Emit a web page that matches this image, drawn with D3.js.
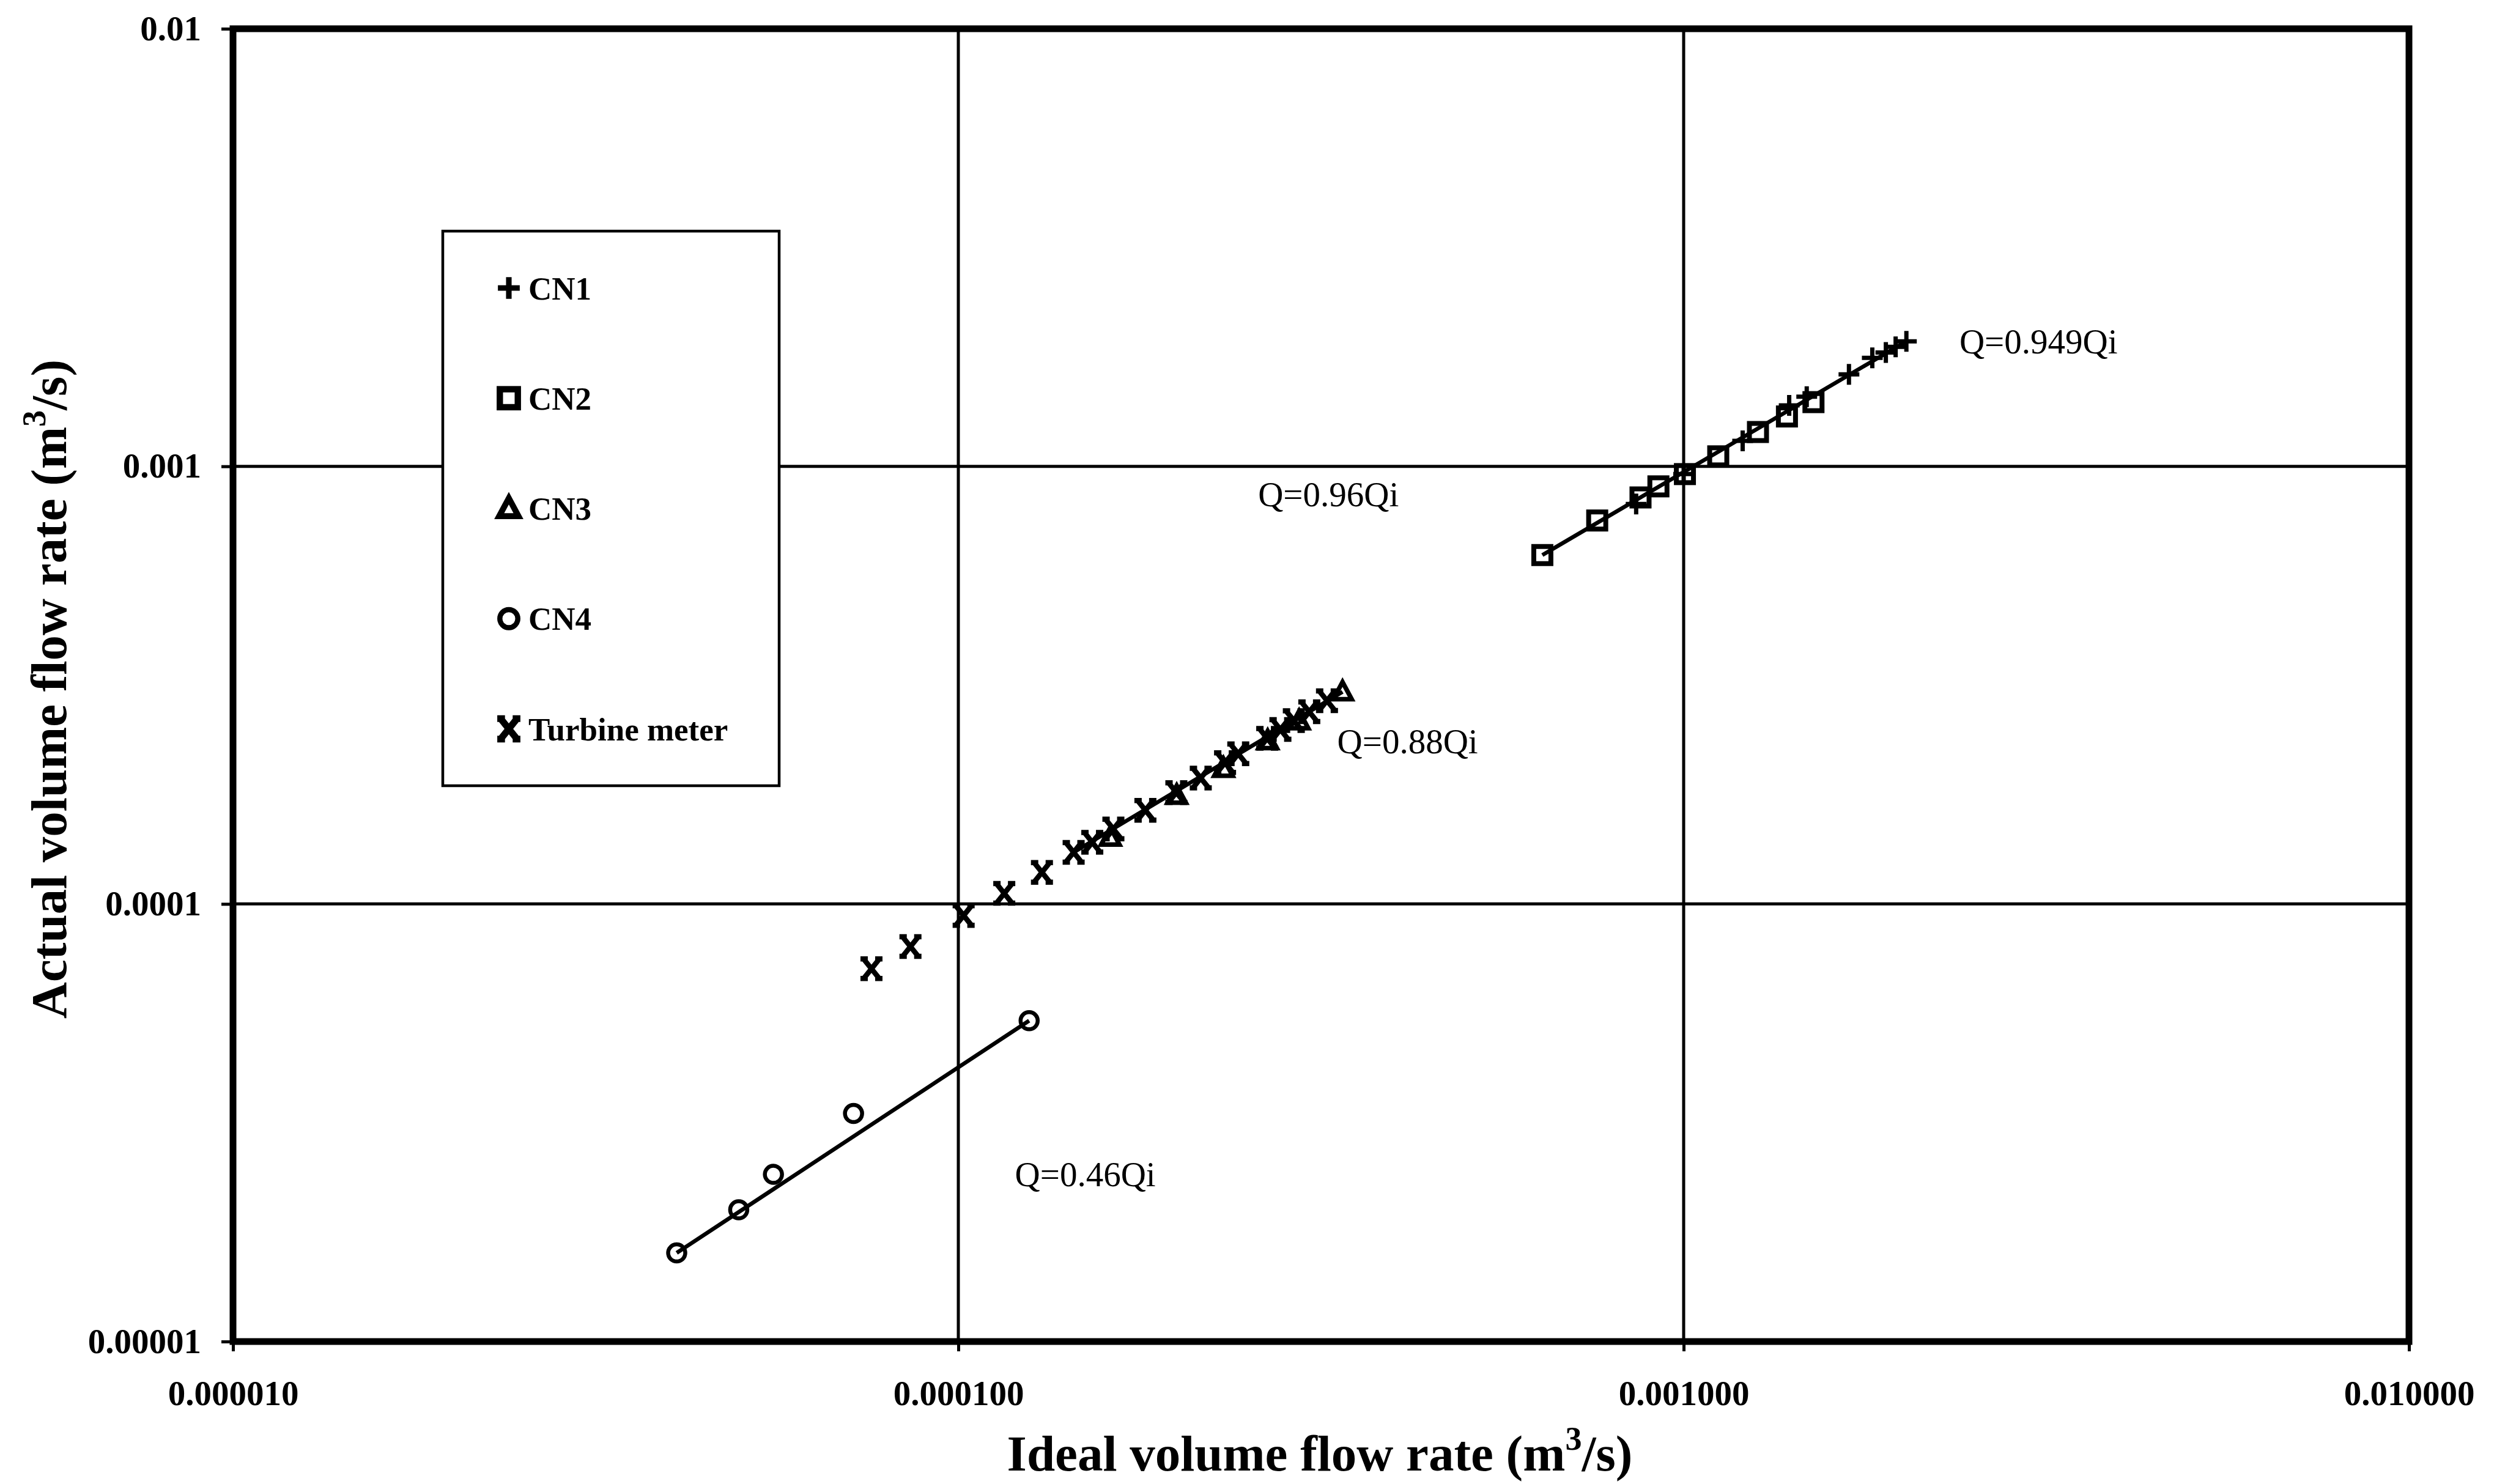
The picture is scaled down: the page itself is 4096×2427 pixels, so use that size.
<!DOCTYPE html>
<html><head><meta charset="utf-8">
<script src="https://cdn.jsdelivr.net/npm/d3@7"></script>
<style>
html,body{margin:0;padding:0;background:#fff;}
svg{display:block;}
text{font-family:"Liberation Serif","Times New Roman",serif;fill:#000;}
</style></head>
<body>
<svg id="chart" width="4096" height="2427"></svg>
<script>
// ---- data ----
const xTicks = [1e-5, 1e-4, 1e-3, 1e-2];
const yTicks = [1e-5, 1e-4, 1e-3, 1e-2];

const cn1X = [8.6e-4, 1.0e-3, 1.206e-3, 1.398e-3, 1.478e-3, 1.69e-3, 1.82e-3, 1.90e-3, 1.96e-3, 2.028e-3];
const cn1Y = [8.2e-4, 9.6e-4, 1.143e-3, 1.378e-3, 1.443e-3, 1.622e-3, 1.77e-3, 1.82e-3, 1.875e-3, 1.931e-3];

const cn2X = [6.385e-4, 7.60e-4, 8.72e-4, 9.23e-4, 1.004e-3, 1.116e-3, 1.266e-3, 1.388e-3, 1.510e-3];
const cn2Y = [6.27e-4, 7.52e-4, 8.49e-4, 9.00e-4, 9.60e-4, 1.054e-3, 1.198e-3, 1.300e-3, 1.402e-3];

const cn3X = [1.62e-4, 2.0e-4, 2.32e-4, 2.67e-4, 2.95e-4, 3.386e-4];
const cn3Y = [1.42e-4, 1.77e-4, 2.04e-4, 2.36e-4, 2.62e-4, 3.053e-4];

const cn4X = [4.09e-5, 4.98e-5, 5.56e-5, 7.17e-5, 1.252e-4];
const cn4Y = [1.594e-5, 2.00e-5, 2.41e-5, 3.32e-5, 5.41e-5];

const turbX = [7.59e-5, 8.59e-5, 1.017e-4, 1.157e-4, 1.304e-4, 1.442e-4, 1.530e-4, 1.636e-4, 1.811e-4, 1.998e-4, 2.159e-4, 2.332e-4, 2.432e-4, 2.666e-4, 2.780e-4, 2.901e-4, 3.047e-4, 3.223e-4];
const turbY = [7.11e-5, 7.99e-5, 9.41e-5, 1.057e-4, 1.181e-4, 1.312e-4, 1.383e-4, 1.483e-4, 1.637e-4, 1.797e-4, 1.939e-4, 2.103e-4, 2.203e-4, 2.390e-4, 2.504e-4, 2.624e-4, 2.749e-4, 2.914e-4];

// fitted trend lines (start / end points in data units)
const fitX = [[6.385e-4, 2.028e-3], [1.442e-4, 3.386e-4], [4.09e-5, 1.252e-4]];
const fitY = [[6.27e-4, 1.931e-3], [1.312e-4, 3.053e-4], [1.594e-5, 5.41e-5]];

// annotation texts and their anchor values
const noteText = ["Q=0.949Qi", "Q=0.96Qi", "Q=0.88Qi", "Q=0.46Qi"];
const noteX = [2.40e-3, 2.59e-4, 3.33e-4, 1.197e-4];
const noteY = [1.81e-3, 8.10e-4, 2.21e-4, 2.265e-5];

const legendNames = ["CN1", "CN2", "CN3", "CN4", "Turbine meter"];
const legendKinds = ["plus", "square", "triangle", "circle", "x"];

// ---- layout ----
const svg = d3.select("#chart");
const L = 381, R = 3939, T = 47, B = 2194;
const x = d3.scaleLog().domain([1e-5, 1e-2]).range([L, R]);
const y = d3.scaleLog().domain([1e-5, 1e-2]).range([B, T]);

// gridlines
const grid = svg.append("g");
grid.selectAll("line.gx").data(xTicks).join("line")
  .attr("x1", d => x(d)).attr("x2", d => x(d)).attr("y1", T).attr("y2", B)
  .attr("stroke", "#000").attr("stroke-width", 5);
grid.selectAll("line.gy").data(yTicks).join("line")
  .attr("y1", d => y(d)).attr("y2", d => y(d)).attr("x1", L).attr("x2", R)
  .attr("stroke", "#000").attr("stroke-width", 5);

// axes
const fx = d3.format(".6f");
const fy = d3.format(".5~f");
const xAxis = svg.append("g").attr("transform", `translate(0,${B})`)
  .call(d3.axisBottom(x).tickValues(xTicks).tickFormat(fx).tickSize(16).tickPadding(48));
const yAxis = svg.append("g").attr("transform", `translate(${L},0)`)
  .call(d3.axisLeft(y).tickValues(yTicks).tickFormat(fy).tickSize(19).tickPadding(33));
[xAxis, yAxis].forEach(a => {
  a.select(".domain").remove();
  a.selectAll(".tick line").attr("stroke", "#000").attr("stroke-width", 5);
  a.selectAll(".tick text").attr("font-family", "Liberation Serif, Times New Roman, serif")
    .attr("font-size", 57).attr("font-weight", "bold").attr("fill", "#000");
});
xAxis.selectAll(".tick text").attr("dy", "0.71em");

// trend lines
const line = d3.line().x(d => x(d[0])).y(d => y(d[1]));
svg.append("g").selectAll("path").data(fitX.map((xs, i) => xs.map((v, j) => [v, fitY[i][j]])))
  .join("path").attr("d", line).attr("fill", "none").attr("stroke", "#000").attr("stroke-width", 6.5);

// marker shapes
function marker(sel, kind, s, w) {
  const k = s || 1, sw = w || 1;
  if (kind === "plus") {
    sel.append("path").attr("d", `M${-17*k},0H${17*k}M0,${-17*k}V${17*k}`)
      .attr("stroke", "#000").attr("stroke-width", 7 * sw).attr("fill", "none");
  } else if (kind === "square") {
    sel.append("rect").attr("x", -14*k).attr("y", -14*k).attr("width", 28*k).attr("height", 28*k)
      .attr("stroke", "#000").attr("stroke-width", 8 * sw).attr("fill", "none");
  } else if (kind === "triangle") {
    sel.append("path").attr("d", `M0,${-16*k}L${15*k},${12*k}L${-15*k},${12*k}Z`)
      .attr("stroke", "#000").attr("stroke-width", 7.5 * sw).attr("fill", "none").attr("stroke-linejoin", "miter");
  } else if (kind === "circle") {
    sel.append("circle").attr("r", 14*k)
      .attr("stroke", "#000").attr("stroke-width", 6.5 * sw).attr("fill", "none");
  } else if (kind === "x") {
    sel.append("path").attr("d",
      `M${-12*k},${-15*k}L${12*k},${15*k}M${12*k},${-15*k}L${-12*k},${15*k}` +
      `M${-18*k},${-16*k}H${-6*k}M${6*k},${-16*k}H${18*k}M${-18*k},${16*k}H${-6*k}M${6*k},${16*k}H${18*k}`)
      .attr("stroke", "#000").attr("stroke-width", 8.5 * sw).attr("fill", "none");
  }
}

function series(xs, ys, kind) {
  const g = svg.append("g");
  xs.forEach((v, i) => {
    const m = g.append("g").attr("transform", `translate(${x(v)},${y(ys[i])})`);
    marker(m, kind, 1, 1);
  });
}
series(cn2X, cn2Y, "square");
series(cn1X, cn1Y, "plus");
series(turbX, turbY, "x");
series(cn3X, cn3Y, "triangle");
series(cn4X, cn4Y, "circle");

// annotations
svg.append("g").selectAll("text").data(noteText).join("text")
  .attr("x", (d, i) => x(noteX[i])).attr("y", (d, i) => y(noteY[i]))
  .attr("font-size", 57).text(d => d);

// plot border
svg.append("rect").attr("x", L).attr("y", T).attr("width", R - L).attr("height", B - T)
  .attr("fill", "none").attr("stroke", "#000").attr("stroke-width", 11);

// legend
const lg = svg.append("g");
lg.append("rect").attr("x", 724).attr("y", 378).attr("width", 550).attr("height", 907)
  .attr("fill", "#fff").attr("stroke", "#000").attr("stroke-width", 4.5);
const rowY = d3.scalePoint().domain(legendNames).range([471, 1192]);
legendNames.forEach((n, i) => {
  const m = lg.append("g").attr("transform", `translate(832,${rowY(n)})`);
  marker(m, legendKinds[i], 1.05, 1.3);
  lg.append("text").attr("x", 864).attr("y", rowY(n)).attr("dy", "0.35em")
    .attr("font-size", 53).attr("font-weight", "bold").text(n);
});

// axis titles
const xt = svg.append("text").attr("x", 2158).attr("y", 2405).attr("text-anchor", "middle")
  .attr("font-size", 83).attr("font-weight", "bold");
xt.append("tspan").text("Ideal volume flow rate (m");
xt.append("tspan").attr("dy", -34).attr("font-size", 54).text("3");
xt.append("tspan").attr("dy", 34).text("/s)");

const yt = svg.append("text").attr("transform", "translate(108,1127) rotate(-90)")
  .attr("text-anchor", "middle").attr("font-size", 83).attr("font-weight", "bold");
yt.append("tspan").text("Actual volume flow rate (m");
yt.append("tspan").attr("dy", -34).attr("font-size", 54).text("3");
yt.append("tspan").attr("dy", 34).text("/s)");
</script>
</body></html>
